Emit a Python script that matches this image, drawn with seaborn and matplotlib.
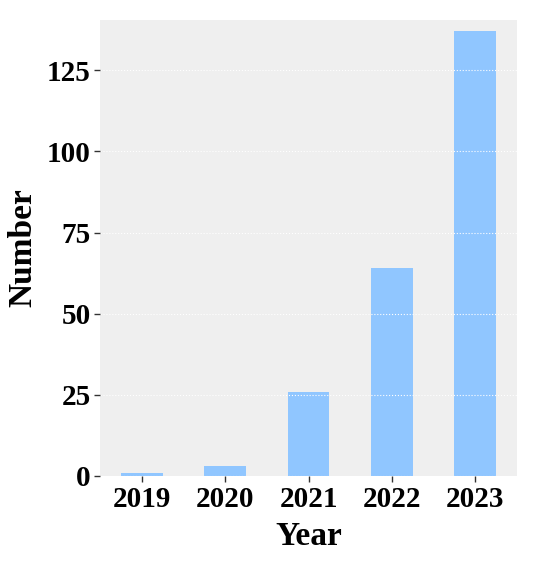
import matplotlib
matplotlib.use('Agg')
import matplotlib.pyplot as plt
import seaborn as sns
import pandas as pd

years = ['2019', '2020', '2021', '2022', '2023']
counts = [1, 3, 26, 64, 137]

df = pd.DataFrame({'Year': years, 'Number': counts})

sns.set_style('darkgrid', rc={'axes.facecolor': '#efefef', 'grid.color': 'white',
                              'grid.linestyle': ':', 'grid.linewidth': 1.0,
                              'text.color': 'black', 'axes.labelcolor': 'black',
                              'xtick.color': 'black', 'ytick.color': 'black'})
plt.rcParams['font.family'] = ['Liberation Serif', 'DejaVu Serif']
plt.rcParams['font.weight'] = 'bold'

fig = plt.figure(figsize=(5.57, 5.72), dpi=100)
ax = fig.add_axes([0.18, 0.168, 0.748, 0.797])
sns.barplot(data=df, x='Year', y='Number', color='#90c6ff', width=0.5,
            saturation=1, linewidth=0, ax=ax)
ax.set_axisbelow(False)
ax.grid(axis='x', visible=False)
ax.set_ylim(0, 140.5)
ax.set_yticks([0, 25, 50, 75, 100, 125])
for s in ax.spines.values():
    s.set_visible(False)
ax.tick_params(axis='both', bottom=True, left=True, length=4, width=1,
               color='#333333', labelcolor='black', labelsize=21, pad=3)
for lab in ax.get_xticklabels() + ax.get_yticklabels():
    lab.set_fontweight('bold')
ax.set_xlabel('Year', fontsize=24, fontweight='bold', labelpad=6)
ax.set_ylabel('Number', fontsize=24, fontweight='bold', labelpad=6)
fig.savefig('out.png', dpi=100)
